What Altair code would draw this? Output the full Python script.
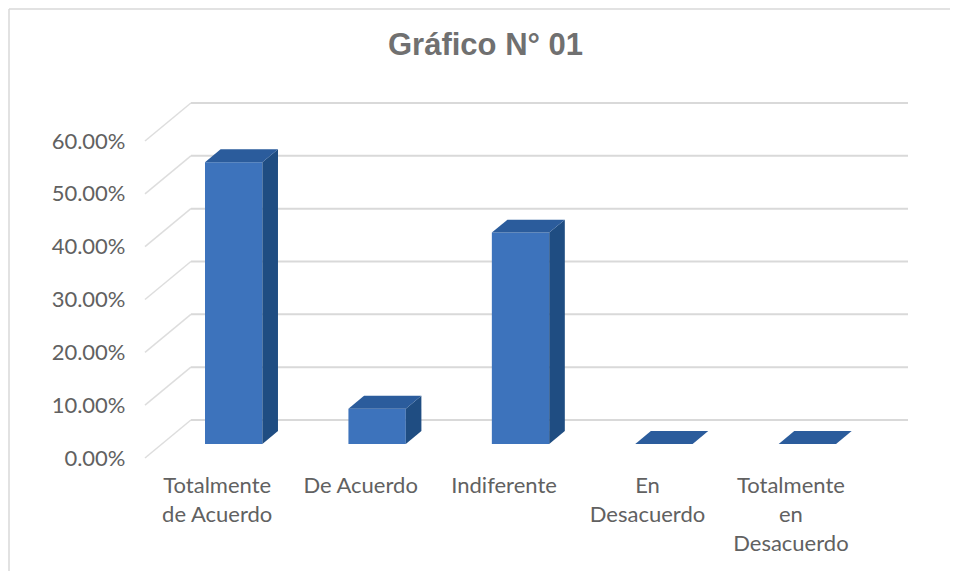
import json
import altair as alt
import pandas as pd

# ---- data ----
categories = ["Totalmente de Acuerdo", "De Acuerdo", "Indiferente",
              "En Desacuerdo", "Totalmente en Desacuerdo"]
label_lines = ["Totalmente|de Acuerdo", "De Acuerdo", "Indiferente",
               "En|Desacuerdo", "Totalmente|en|Desacuerdo"]
values = [53.33, 6.67, 40.00, 0.00, 0.00]          # percent
ticks = [0, 10, 20, 30, 40, 50, 60]

# ---- 3-D projection parameters (style) ----
DX = 0.32      # back-wall horizontal shift (category units)
DY = 7.2       # back-wall vertical shift (percent units)
Z1, Z2 = 0.37, 0.71   # bar front / back depth
HALF = 0.2     # half bar width
XMIN, XMAX = -0.5, 4.5 + DX
YMAX = 60 + DY

W, H = 763, 355
PAD = {"left": 137, "top": 95, "right": 42, "bottom": 113}

xs = alt.Scale(domain=[XMIN, XMAX], nice=False, zero=False)
ys = alt.Scale(domain=[0, YMAX], nice=False, zero=False)

TXT = "#616161"
GRID = "#D9D9D9"

x_label_expr = "split(" + json.dumps(label_lines) + "[datum.value], '|')"
XAX = alt.Axis(
    title=None, values=[0, 1, 2, 3, 4], labelExpr=x_label_expr,
    domain=False, ticks=False, grid=False, labelPadding=17,
    labelLineHeight=29, labelFontSize=22, labelColor=TXT, labelFont="Lato",
    labelOverlap=False, labelFlush=False, labelBound=False)
YAX = alt.Axis(
    title=None, values=ticks, labelExpr="format(datum.value/100, '.2%')",
    domain=False, ticks=False, grid=False, labelPadding=20,
    labelFontSize=22, labelColor=TXT, labelFont="Lato")

# gridlines
back = pd.DataFrame({"x1": [XMIN + DX] * len(ticks), "x2": [XMAX] * len(ticks),
                     "y": [t + DY for t in ticks], "t": ticks})
diag = pd.DataFrame({"x1": [XMIN] * len(ticks), "x2": [XMIN + DX] * len(ticks),
                     "y1": ticks, "y2": [t + DY for t in ticks]})

# bar faces
front = pd.DataFrame({
    "cat": categories,
    "x1": [i - HALF + Z1 * DX for i in range(5)],
    "x2": [i + HALF + Z1 * DX for i in range(5)],
    "y1": [Z1 * DY] * 5,
    "y2": [v + Z1 * DY for v in values],
})
side_rows, top_rows = [], []
for i, (c, v) in enumerate(zip(categories, values)):
    for z in (Z1, Z2):
        side_rows.append({"cat": c, "x": i + HALF + z * DX, "y": v + z * DY, "y2": z * DY})
        top_rows.append({"cat": c, "y": v + z * DY,
                         "x": i - HALF + z * DX, "x2": i + HALF + z * DX})
side = pd.DataFrame(side_rows)
top = pd.DataFrame(top_rows)

grid_back = alt.Chart(back).mark_rule(color=GRID, strokeWidth=2).encode(
    x=alt.X("x1:Q", scale=xs, axis=XAX),
    x2="x2:Q",
    y=alt.Y("y:Q", scale=ys, axis=YAX),
)

grid_diag = alt.Chart(diag).mark_rule(color=GRID, strokeWidth=1.5, opacity=0.9).encode(
    x=alt.X("x1:Q", scale=xs, axis=XAX),
    x2="x2:Q",
    y=alt.Y("y1:Q", scale=ys, axis=YAX),
    y2="y2:Q",
)

front_layer = alt.Chart(front).mark_rect(color="#3D73BC").encode(
    x=alt.X("x1:Q", scale=xs, axis=XAX), x2="x2:Q",
    y=alt.Y("y1:Q", scale=ys, axis=YAX), y2="y2:Q",
)

side_layer = alt.Chart(side).mark_area(color="#1F4D82", orient="vertical").encode(
    x=alt.X("x:Q", scale=xs, axis=XAX),
    y=alt.Y("y:Q", scale=ys, axis=YAX, stack=None), y2="y2:Q",
    detail="cat:N",
)

top_layer = alt.Chart(top).mark_area(color="#2B5C9C", orient="horizontal").encode(
    y=alt.Y("y:Q", scale=ys, axis=YAX),
    x=alt.X("x:Q", scale=xs, axis=XAX, stack=None), x2="x2:Q",
    detail="cat:N",
)

border_left = alt.Chart(pd.DataFrame({"k": [0]})).mark_rule(color="#D9D9D9", strokeWidth=1.5).encode(
    x=alt.value(-136), y=alt.value(-94), y2=alt.value(H + PAD["bottom"]))
border_top = alt.Chart(pd.DataFrame({"k": [0]})).mark_rule(color="#D9D9D9", strokeWidth=1.5).encode(
    x=alt.value(-136), x2=alt.value(W + PAD["right"]), y=alt.value(-94))

chart = alt.layer(
    border_left, border_top, grid_diag, grid_back, front_layer, side_layer, top_layer
).properties(
    width=W, height=H,
    padding=PAD,
    autosize=alt.AutoSizeParams(type="none"),
    background="white",
    title=alt.Title("Gráfico N° 01", fontSize=31, font="Liberation Sans",
                    fontWeight="bold", color="#707070", offset=-54, dx=-41,
                    anchor="middle", frame="group"),
).configure_view(stroke=None)

chart.save("out.html", embed_options={"renderer": "svg", "actions": False})
